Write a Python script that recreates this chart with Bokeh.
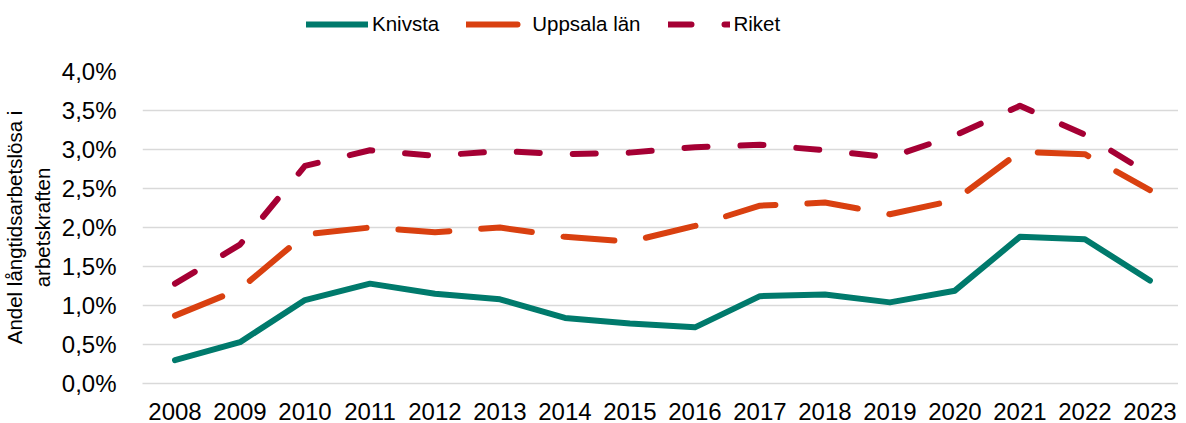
from bokeh.plotting import figure
from bokeh.models import (Range1d, FixedTicker, CustomJSTickFormatter, Legend, LegendItem,
                          ColumnDataSource)
from bokeh.layouts import column
from bokeh.embed import file_html
from bokeh.resources import INLINE

years = [2008, 2009, 2010, 2011, 2012, 2013, 2014, 2015, 2016, 2017, 2018, 2019, 2020, 2021, 2022, 2023]
knivsta = [0.30, 0.53, 1.07, 1.28, 1.15, 1.08, 0.84, 0.77, 0.72, 1.12, 1.14, 1.04, 1.19, 1.88, 1.85, 1.32]
uppsala = [0.87, 1.21, 1.91, 2.00, 1.94, 2.00, 1.88, 1.82, 2.02, 2.28, 2.32, 2.17, 2.35, 2.97, 2.94, 2.48]
riket = [1.28, 1.78, 2.79, 2.99, 2.92, 2.98, 2.94, 2.96, 3.03, 3.06, 2.99, 2.90, 3.18, 3.56, 3.19, 2.68]
y_ticks = [0, 0.5, 1, 1.5, 2, 2.5, 3, 3.5, 4]
series_names = ["Knivsta", "Uppsala län", "Riket"]

FONT = "Liberation Sans"
COLORS = ["#007A6C", "#D94010", "#A50034"]
DASHES = ["solid", "51 32", "23 33"]
W = 1178
LEG_H = 47
MAIN_H = 376

p = figure(width=W, height=MAIN_H, output_backend="svg", toolbar_location=None,
           x_range=Range1d(2007.5, 2023.44), y_range=Range1d(0, 4),
           min_border_left=130, min_border_right=0, min_border_top=24, min_border_bottom=40)
p.outline_line_color = None
p.background_fill_color = "white"
p.border_fill_color = "white"

p.xgrid.grid_line_color = None
p.ygrid.grid_line_color = "#d9d9d9"
p.ygrid.grid_line_width = 1.5

p.xaxis.ticker = FixedTicker(ticks=years)
p.yaxis.ticker = FixedTicker(ticks=y_ticks)
p.yaxis.formatter = CustomJSTickFormatter(code="return tick.toFixed(1).replace('.', ',') + '%';")

for ax in (p.xaxis[0], p.yaxis[0]):
    ax.major_tick_line_color = None
    ax.minor_tick_line_color = None
    ax.major_label_text_font = FONT
    ax.major_label_text_font_size = "24px"
    ax.major_label_text_color = "#000000"
p.xaxis.axis_line_color = "#d9d9d9"
p.xaxis.axis_line_width = 1.5
p.yaxis.axis_line_color = None
p.xaxis.major_label_standoff = 13
p.yaxis.major_label_standoff = 20

p.yaxis.axis_label = "Andel långtidsarbetslösa i\narbetskraften"
p.yaxis.axis_label_text_font = FONT
p.yaxis.axis_label_text_font_size = "20.5px"
p.yaxis.axis_label_text_font_style = "normal"
p.yaxis.axis_label_text_color = "#000000"
p.yaxis.axis_label_standoff = 5

src = ColumnDataSource(dict(x=years, k=knivsta, u=uppsala, r=riket))
for col, c, d in zip(["k", "u", "r"], COLORS, DASHES):
    p.line("x", col, source=src, line_color=c, line_width=6, line_cap="round",
           line_join="round", line_dash=d)

# legend strip above the plot (its lines use the same data, but lie outside this strip's ranges)
lg = figure(width=W, height=LEG_H, output_backend="svg", toolbar_location=None,
            x_range=Range1d(0, 1), y_range=Range1d(0, 1),
            x_axis_location=None, y_axis_location=None,
            min_border_left=0, min_border_right=0, min_border_top=0, min_border_bottom=0)
lg.grid.visible = False
lg.outline_line_color = None
lg.border_fill_color = "white"
lg.background_fill_color = "white"
items = []
for name, col, c, d in zip(series_names, ["k", "u", "r"], COLORS, DASHES):
    r = lg.line("x", col, source=src, line_color=c, line_width=6, line_cap="round",
                line_join="round", line_dash=d)
    items.append(LegendItem(label=name, renderers=[r]))
legend = Legend(items=items, orientation="horizontal", location=(164, 11),
                glyph_width=62, glyph_height=24, label_standoff=4, spacing=27,
                padding=0, margin=0, border_line_color=None, background_fill_alpha=0,
                label_text_font=FONT, label_text_font_size="20.5px", label_text_color="#000000")
lg.add_layout(legend, "center")

layout = column(lg, p, spacing=0)
open("out.html", "w").write(file_html(layout, INLINE))
